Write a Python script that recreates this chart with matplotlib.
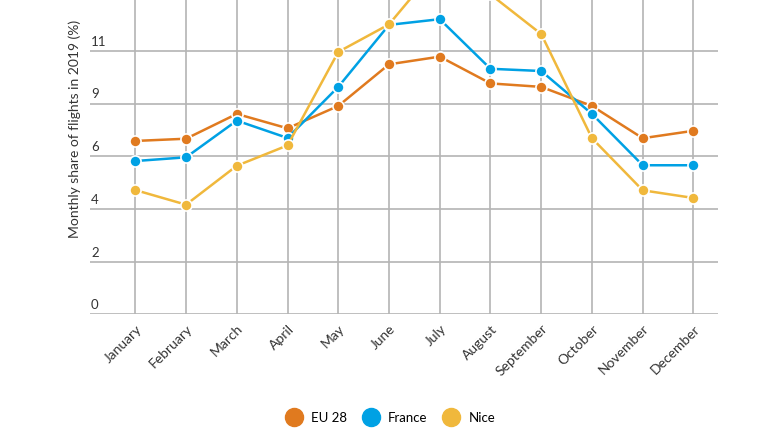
import matplotlib
matplotlib.use("Agg")
import matplotlib.pyplot as plt
import matplotlib.transforms as mtransforms
from matplotlib.lines import Line2D

plt.rcParams["font.family"] = ["Lato", "DejaVu Sans"]

months = ["January", "February", "March", "April", "May", "June", "July",
          "August", "September", "October", "November", "December"]
eu28 = [6.99, 7.08, 8.08, 7.50, 8.40, 10.08, 10.39, 9.31, 9.17, 8.40, 7.10, 7.40]
france = [6.18, 6.33, 7.81, 7.11, 9.17, 11.67, 11.90, 9.90, 9.81, 8.08, 6.01, 6.01]
nice = [5.01, 4.42, 5.99, 6.81, 10.58, 11.69, 14.14, 12.9, 11.30, 7.10, 5.00, 4.69]

series_names = ["EU 28", "France", "Nice"]
series_colors = ["#E07A1F", "#00A1E4", "#F0B83C"]

y_step = 2.125
y_ticks = [y_step * k for k in range(6)]
y_tick_labels = ["0", "2", "4", "6", "9", "11"]

W, H = 770, 433
fig = plt.figure(figsize=(W / 100, H / 100), dpi=100)

# axes geometry in pixels (top of the plot runs past the figure edge)
left_px, right_px, bottom_px = 90, 718.3, 314.3
px_per_step = 52.7
ax = fig.add_axes([left_px / W, 1 - bottom_px / H,
                   (right_px - left_px) / W, 8 * px_per_step / H])

x = list(range(len(months)))
for values, name, color in zip([eu28, france, nice], series_names, series_colors):
    ax.plot(x, values, color=color, linewidth=1.8, marker="o", markersize=8,
            markerfacecolor=color, markeredgecolor="white", markeredgewidth=1.2,
            label=name, zorder=3)

ax.set_xlim(-0.893, 11.49)
ax.set_ylim(0, 8 * y_step)

# minor ticks keep the horizontal grid going above the last label
ax.set_yticks([y_step * k for k in range(6, 9)], minor=True)
ax.set_xticks(x)
ax.set_xticklabels(months, rotation=45, ha="right", rotation_mode="anchor",
                   fontsize=10, color="#333333")
ax.set_yticks(y_ticks)
ax.set_yticklabels(y_tick_labels, fontsize=9.5, color="#333333")
ax.tick_params(axis="x", length=0, pad=6)
ax.tick_params(axis="y", which="both", length=0, pad=0)
shift = mtransforms.ScaledTranslation(1 / 100, 3 / 100, fig.dpi_scale_trans)
for lbl in ax.get_yticklabels():
    lbl.set_horizontalalignment("left")
    lbl.set_verticalalignment("bottom")
    lbl.set_transform(lbl.get_transform() + shift)

ax.grid(True, which="both", color="#B4B4B4", linewidth=1.2)
ax.set_axisbelow(True)
for spine in ax.spines.values():
    spine.set_visible(False)

ax.set_ylabel("Monthly share of flights in 2019 (%)", fontsize=10, color="#333333")
ax.yaxis.set_label_coords(-0.014, (bottom_px - 128.5) / (8 * px_per_step))

handles = [Line2D([], [], linestyle="none", marker="o", markersize=13,
                  markerfacecolor=c, markeredgecolor=c) for c in series_colors]
fig.legend(handles, series_names, loc="center", bbox_to_anchor=(390 / W, 1 - 418 / H),
           ncol=3, frameon=False, fontsize=9.5, handletextpad=0.6, columnspacing=1.1,
           handlelength=1.4)

fig.savefig("out.png", dpi=100)
